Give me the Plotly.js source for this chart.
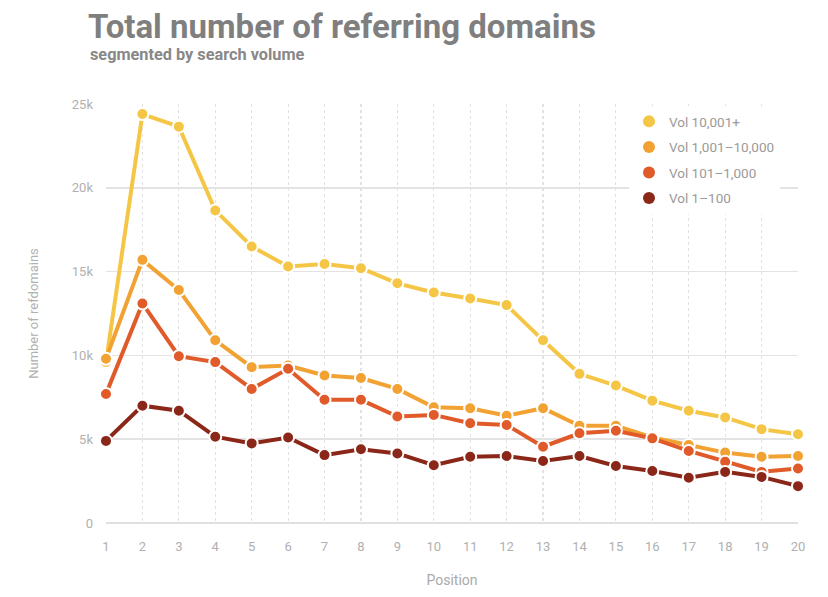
<!DOCTYPE html>
<html>
<head>
<meta charset="utf-8">
<script src="https://cdn.plot.ly/plotly-3.0.1.min.js"></script>
<style>html,body{margin:0;padding:0;background:#fff;}#chart{width:828px;height:597px;}</style>
</head>
<body>
<div id="chart"></div>
<script>
var positions = [1,2,3,4,5,6,7,8,9,10,11,12,13,14,15,16,17,18,19,20];
var seriesNames = ["Vol 10,001+", "Vol 1,001\u201310,000", "Vol 101\u20131,000", "Vol 1\u2013100"];
var vol10001 = [9600,24400,23650,18650,16500,15300,15450,15200,14300,13750,13400,13000,10900,8900,8200,7300,6700,6300,5600,5300];
var vol1001  = [9800,15700,13900,10900,9300,9400,8800,8650,8000,6900,6850,6400,6850,5800,5800,5100,4650,4200,3950,4000];
var vol101   = [7700,13100,9950,9600,8000,9200,7350,7350,6350,6450,5950,5850,4550,5350,5500,5050,4300,3650,3050,3250];
var vol1     = [4900,7000,6700,5150,4750,5100,4050,4400,4150,3450,3950,4000,3700,4000,3400,3100,2700,3050,2750,2200];
var colors = ["#F5C646", "#F2A233", "#E05A2A", "#8A2718"];
var yTickVals = [0,5000,10000,15000,20000,25000];
var yTickText = ["0","5k","10k","15k","20k","25k"];

var allSeries = [vol10001, vol1001, vol101, vol1];
var traces = allSeries.map(function(vals, i){
  return {
    x: positions, y: vals, name: seriesNames[i], type: 'scatter', mode: 'lines+markers',
    cliponaxis: false, showlegend: false,
    line: {color: colors[i], width: 4},
    marker: {color: colors[i], size: 12, line: {color: '#ffffff', width: 2}}
  };
});
// legend-only entries (markers only, as in the reference legend)
seriesNames.forEach(function(nm, i){
  traces.push({
    x: [null], y: [null], name: nm, type: 'scatter', mode: 'markers',
    legendgroup: 'g' + i, showlegend: true,
    marker: {color: colors[i], size: 15}
  });
});

var layout = {
  width: 828, height: 597,
  margin: {l: 106, r: 30, t: 104, b: 74},
  paper_bgcolor: '#ffffff', plot_bgcolor: '#ffffff',
  font: {family: 'Roboto, sans-serif', color: '#aaaaaa', size: 13},
  title: {
    text: '<b>Total number of referring domains</b>',
    font: {family: 'Roboto, sans-serif', size: 33, color: '#7f7f7f'},
    xref: 'container', x: 88/828, xanchor: 'left',
    yref: 'container', y: 1 - 26/597, yanchor: 'middle'
  },
  annotations: [{
    text: '<b>segmented by search volume</b>',
    xref: 'paper', yref: 'paper', x: -18/692, y: (523-55)/419,
    xanchor: 'left', yanchor: 'middle', showarrow: false,
    font: {family: 'Roboto, sans-serif', size: 16.3, color: '#888888'}
  }],
  xaxis: {
    range: [1, 20], tickvals: positions, ticktext: positions.map(String),
    showgrid: true, gridcolor: '#e2e2e2', griddash: 'dot', gridwidth: 1.2,
    zeroline: false, showline: false, ticks: '', ticklabelstandoff: 14,
    tickfont: {size: 13, color: '#b0b0b0'},
    title: {text: 'Position', font: {size: 14, color: '#aaaaaa'}, standoff: 22},
    fixedrange: true
  },
  yaxis: {
    range: [0, 25000], tickvals: yTickVals, ticktext: yTickText,
    showgrid: true, gridcolor: '#e3e3e3', gridwidth: 1.5,
    zeroline: true, zerolinecolor: '#e0e0e0', zerolinewidth: 2,
    showline: false, ticks: '', ticklabelstandoff: 12,
    tickfont: {size: 13, color: '#b0b0b0'},
    title: {text: 'Number of refdomains', font: {size: 13, color: '#b0b0b0'}, standoff: 30},
    fixedrange: true
  },
  legend: {
    x: (629-106)/692, xanchor: 'left', y: 0.995, yanchor: 'top',
    bgcolor: '#ffffff', borderwidth: 0,
    font: {size: 13.5, color: '#9a9a9a'},
    itemsizing: 'constant', itemwidth: 30, tracegroupgap: 5
  },
  showlegend: true
};

Plotly.newPlot('chart', traces, layout, {displayModeBar: false, staticPlot: true});
</script>
</body>
</html>
